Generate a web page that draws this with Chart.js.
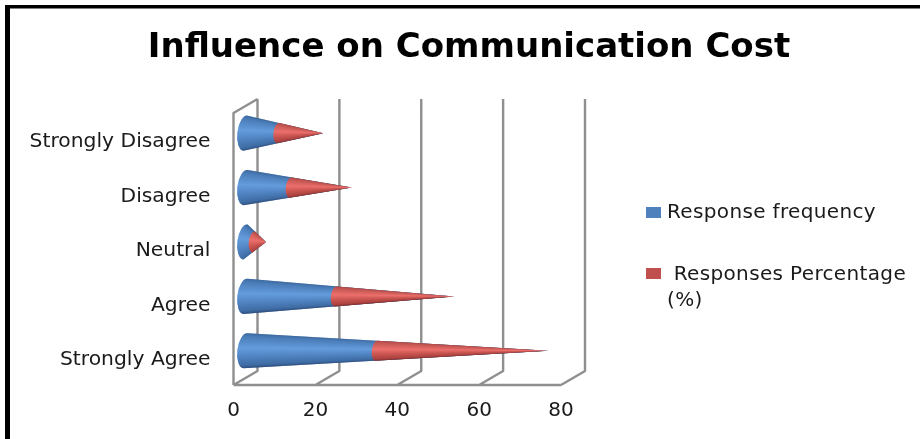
<!DOCTYPE html>
<html><head><meta charset="utf-8">
<style>html,body{margin:0;padding:0;background:#fff;overflow:hidden}#w{width:920px;height:439px}</style>
<script src="https://cdn.jsdelivr.net/npm/chart.js@4"></script>
</head><body><div id="w"><canvas id="c"></canvas></div>
<script>
const titleText = 'Influence on Communication Cost';
const categories = ['Strongly Agree','Agree','Neutral','Disagree','Strongly Disagree'];
const responseFrequency = [32,22,2,11,8];
const responsePercentage = [42,29,3,15,11];
const seriesNames = ['Response frequency',' Responses Percentage'];
const seriesNameSecondLine = '(%)';
const xTicks = [0,20,40,60,80];

const FONT = '"DejaVu Sans"';
const GRID = '#8f8f8f';
const depth = {x:24, y:-14};
const blueStops = [[0,'#3d6a9e'],[0.1,'#4a7cb8'],[0.42,'#649cdc'],[0.68,'#4f82c0'],[0.9,'#3f6ca4'],[1,'#2c4c7c']];
const redStops  = [[0,'#ad4643'],[0.1,'#c45652'],[0.42,'#ec6f6c'],[0.68,'#c8544f'],[0.9,'#ac4240'],[1,'#7c2e2c']];

function drawCone(ctx,x0,xTip,cy,ry,stops){
  const rx=ry*0.46, tilt=0.12;
  ctx.save();
  ctx.beginPath();
  ctx.ellipse(x0,cy,rx,ry,tilt,Math.PI/2,Math.PI*1.5);
  ctx.lineTo(xTip,cy);
  ctx.closePath();
  ctx.clip();
  const len=Math.max(1,xTip-x0);
  for(let px=Math.floor(x0-rx-2);px<=xTip+1;px++){
    const h=Math.max(0.6,ry*(xTip-px)/len);
    const g=ctx.createLinearGradient(0,cy-h,0,cy+h);
    stops.forEach(s=>g.addColorStop(s[0],s[1]));
    ctx.fillStyle=g;
    ctx.fillRect(px,cy-h-2,1.5,2*h+4);
  }
  ctx.restore();
}
const walls = {
  id:'walls',
  beforeDraw(chart){
    const {ctx,chartArea:a,scales:{x}}=chart;
    ctx.save();
    ctx.fillStyle='#fff';ctx.fillRect(0,0,chart.width,chart.height);
    ctx.fillStyle='#000';
    ctx.fillRect(5,5,chart.width-5,3.5);
    ctx.fillRect(5,5,5,chart.height-5);
    ctx.strokeStyle=GRID;ctx.lineWidth=2.4;ctx.lineJoin='round';
    ctx.beginPath();
    xTicks.forEach(v=>{
      const px=x.getPixelForValue(v);
      ctx.moveTo(px+depth.x,a.top+depth.y);
      ctx.lineTo(px+depth.x,a.bottom+depth.y);
      ctx.lineTo(px,a.bottom);
    });
    ctx.moveTo(a.left,a.bottom);ctx.lineTo(x.getPixelForValue(80),a.bottom);
    ctx.moveTo(a.left,a.bottom);ctx.lineTo(a.left,a.top);ctx.lineTo(a.left+depth.x,a.top+depth.y);
    ctx.stroke();
    ctx.restore();
  },
  afterDatasetsDraw(chart){
    const {ctx,scales:{x,y}}=chart;
    const ox=depth.x/2, oy=depth.y/2, ry=17.7;
    categories.forEach((_,i)=>{
      const cy=y.getPixelForValue(i)+oy;
      const zero=x.getPixelForValue(0)+ox;
      const total=responseFrequency[i]+responsePercentage[i];
      const tip=x.getPixelForValue(total)+ox;
      const mid=x.getPixelForValue(responseFrequency[i])+ox;
      drawCone(ctx,zero,tip,cy,ry,blueStops);
      drawCone(ctx,mid,tip,cy,ry*(1-responseFrequency[i]/total),redStops);
    });
  },
  afterDraw(chart){
    const {ctx}=chart;
    ctx.save();
    ctx.font='20px '+FONT;ctx.textBaseline='middle';ctx.textAlign='left';
    ctx.letterSpacing='0.35px';
    ctx.fillStyle='#4f81bd';ctx.fillRect(646,207,15,11);
    ctx.fillStyle='#c0504d';ctx.fillRect(646,268,15,11);
    ctx.fillStyle='#1a1a1a';
    ctx.fillText(seriesNames[0],667,213);
    ctx.fillText(seriesNames[1],667,275);
    ctx.fillText(seriesNameSecondLine,667,301);
    ctx.letterSpacing='0px';
    ctx.restore();
  }
};
new Chart(document.getElementById('c'),{
  type:'bar',
  data:{labels:categories,datasets:[
    {label:seriesNames[0],data:responseFrequency,backgroundColor:'rgba(0,0,0,0)',stack:'s'},
    {label:seriesNames[1]+' '+seriesNameSecondLine,data:responsePercentage,backgroundColor:'rgba(0,0,0,0)',stack:'s'}
  ]},
  plugins:[walls],
  options:{
    indexAxis:'y',responsive:true,maintainAspectRatio:false,animation:false,
    layout:{padding:{left:18,right:0,top:0,bottom:0}},
    plugins:{
      legend:{display:false},tooltip:{enabled:false},
      title:{display:true,text:titleText,color:'#000',font:{family:FONT,size:34,weight:'bold',lineHeight:1.2},padding:{top:28,bottom:44.2}}
    },
    scales:{
      x:{type:'linear',min:0,max:80,stacked:true,
        afterFit(s){s.height=54},
        afterBuildTicks(s){s.ticks=xTicks.map(v=>({value:v}))},
        grid:{display:false},border:{display:false},
        ticks:{color:'#1a1a1a',font:{family:FONT,size:20},padding:6,maxRotation:0}},
      y:{type:'category',reverse:true,stacked:true,
        afterFit(s){s.width=215.5},
        grid:{display:false,drawTicks:false},border:{display:false},
        ticks:{color:'#1a1a1a',font:{family:FONT,size:20.3},padding:23,labelOffset:2}},
      side:{type:'linear',position:'right',display:true,
        afterFit(s){s.width=359},
        grid:{display:false},border:{display:false},ticks:{display:false}}
    }
  }
});
</script></body></html>
